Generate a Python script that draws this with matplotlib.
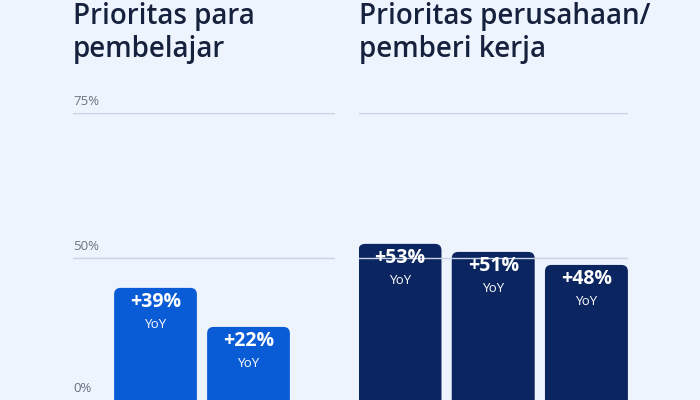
import matplotlib
matplotlib.use("Agg")
import matplotlib.pyplot as plt
from matplotlib.patches import FancyBboxPatch

left_title = "Prioritas para\npembelajar"
right_title = "Prioritas perusahaan/\npemberi kerja"
# heights on the chart's own (non-linear) gauge, top gridline = 75
left_vals = [29.3, 19.1]
left_labels = ["+39%", "+22%"]
right_vals = [40.8, 38.7, 35.3]
right_labels = ["+53%", "+51%", "+48%"]
grid_pos = [0, 37.1, 75]
ytick_labels = ["0%", "50%", "75%"]

BG = "#eef4fd"
plt.rcParams["font.family"] = "Open Sans"
fig = plt.figure(figsize=(7, 4), dpi=100, facecolor=BG)
U = 287 / 75  # px per unit

def panel(x0, x1, xlim, vals, labels, color, title, show_ticks):
    ax = fig.add_axes([x0/700, 0, (x1-x0)/700, 287/400])
    ax.set_facecolor(BG)
    ax.set_xlim(*xlim); ax.set_ylim(0, 75)
    for s in ax.spines.values(): s.set_visible(False)
    ax.set_xticks([]); ax.set_yticks([])
    for g in grid_pos[1:]:
        ax.axhline(g, color="#c9d3e6", lw=1)
    for i, (v, lab) in enumerate(zip(vals, labels)):
        w = 0.89
        p = FancyBboxPatch((i - w/2, -5), w, v + 5, boxstyle="round,pad=0,rounding_size=0.07",
                           mutation_aspect=93/U, fc=color, ec="none")
        ax.add_patch(p)
        ax.text(i, v - 14/U, lab, ha="center", va="center", color="white", fontsize=14, fontweight="bold")
        ax.text(i, v - 37/U, "YoY", ha="center", va="center", color="white", fontsize=9.5)
    if show_ticks:
        for g, l in zip(grid_pos, ytick_labels):
            ax.text(xlim[0], g + 1.2, l, ha="left", va="bottom", color="#6b7280", fontsize=9.5)
    fig.text(x0/700, 1 - 2/400, title, ha="left", va="top", fontsize=20, fontweight="semibold",
             color="#16213d", linespacing=1.2)
    return ax

panel(73, 335, (-0.887, 1.93), left_vals, left_labels, "#0a5bd6", left_title, True)
panel(359, 628, (-0.44, 2.446), right_vals, right_labels, "#0b2560", right_title, False)
fig.savefig("out.png", dpi=100, facecolor=BG)
